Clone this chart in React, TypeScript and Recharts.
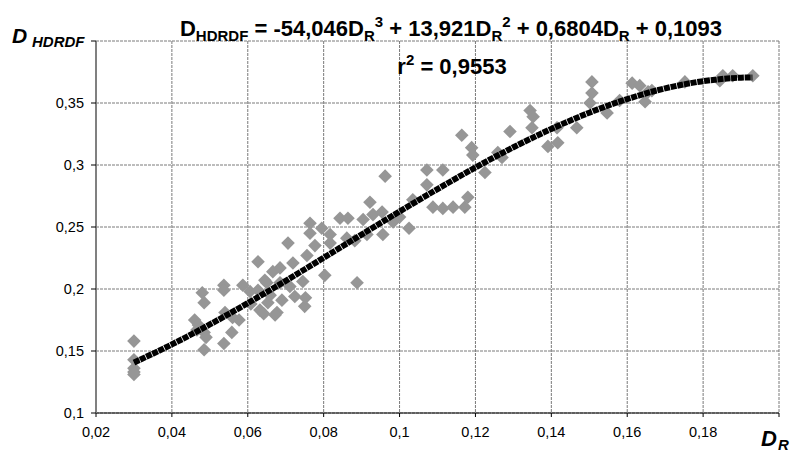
import React from 'react';
import { ComposedChart, Scatter, XAxis, YAxis, CartesianGrid } from 'recharts';

// Observed points: D_R (x) and D_HDRDF (y)
const drValues: number[] = [
  0.03, 0.03, 0.03, 0.03, 0.03,
  0.046, 0.048, 0.0485, 0.0466, 0.0485, 0.049, 0.0485, 0.047,
  0.0537, 0.0537, 0.054, 0.056, 0.0577, 0.0558, 0.0537, 0.0587,
  0.0606, 0.0608, 0.0627, 0.0645, 0.0627, 0.0632, 0.0653, 0.0677, 0.0672, 0.0642, 0.065,
  0.0685, 0.0685, 0.0706, 0.0719, 0.0711, 0.0724, 0.0745, 0.075, 0.0752, 0.0756,
  0.0764, 0.0764, 0.0777, 0.0795, 0.0803, 0.0817, 0.0666, 0.069, 0.0659,
  0.0817, 0.0843, 0.0864, 0.0861, 0.0882, 0.0888, 0.0904, 0.0922, 0.093, 0.0914,
  0.0956, 0.0962, 0.0954, 0.0983, 0.0988, 0.1025, 0.1,
  0.1035, 0.1072, 0.1072, 0.1088, 0.1114, 0.1114, 0.1141, 0.1164, 0.1172, 0.118,
  0.119, 0.1193, 0.1225, 0.1259, 0.127, 0.1291, 0.1344, 0.1352, 0.1349, 0.1391,
  0.1415, 0.1417, 0.1467, 0.1507, 0.1507, 0.1502, 0.1547, 0.158, 0.1613, 0.1633,
  0.1647, 0.1655, 0.1665, 0.1752, 0.1844, 0.1852, 0.1878, 0.1931,
];
const dhdrdfValues: number[] = [
  0.158, 0.143, 0.136, 0.133, 0.131,
  0.175, 0.197, 0.189, 0.167, 0.165, 0.161, 0.151, 0.171,
  0.203, 0.199, 0.181, 0.177, 0.175, 0.165, 0.156, 0.203,
  0.198, 0.188, 0.222, 0.207, 0.199, 0.183, 0.189, 0.181, 0.179, 0.18, 0.205,
  0.217, 0.205, 0.237, 0.221, 0.202, 0.194, 0.206, 0.186, 0.193, 0.227,
  0.253, 0.245, 0.235, 0.249, 0.211, 0.244, 0.214, 0.191, 0.195,
  0.237, 0.257, 0.257, 0.241, 0.239, 0.205, 0.256, 0.27, 0.26, 0.244,
  0.244, 0.291, 0.262, 0.254, 0.257, 0.249, 0.258,
  0.272, 0.296, 0.284, 0.266, 0.296, 0.265, 0.266, 0.324, 0.266, 0.274,
  0.314, 0.308, 0.294, 0.31, 0.306, 0.327, 0.344, 0.339, 0.33, 0.315,
  0.33, 0.318, 0.33, 0.367, 0.358, 0.35, 0.342, 0.352, 0.366, 0.364,
  0.351, 0.359, 0.36, 0.367, 0.368, 0.372, 0.372, 0.372,
];

// Trendline
const trendX: number[] = [0.03, 0.04, 0.05, 0.06, 0.07, 0.08, 0.09, 0.1, 0.11, 0.12, 0.13, 0.14, 0.15, 0.16, 0.17, 0.18, 0.19, 0.193];
const trendY: number[] = [0.1407, 0.1553, 0.1714, 0.1886, 0.2066, 0.2252, 0.2439, 0.2625, 0.2806, 0.298, 0.3143, 0.3291, 0.3422, 0.3532, 0.3618, 0.3676, 0.3704, 0.3706];

const xTicks: number[] = [0.02, 0.04, 0.06, 0.08, 0.1, 0.12, 0.14, 0.16, 0.18, 0.2];
const yTicks: number[] = [0.1, 0.15, 0.2, 0.25, 0.3, 0.35, 0.4];

const points = drValues.map((x, i) => ({ x, y: dhdrdfValues[i] }));
const trend = trendX.map((x, i) => ({ x, y: trendY[i] }));

const fmt = (v: number) => String(Number(v.toFixed(2))).replace('.', ',');

const Diamond = (props: any) => {
  const { cx, cy } = props;
  if (cx == null || cy == null) return null;
  const r = 6.8;
  return (
    <polygon
      points={`${cx},${cy - r} ${cx + r},${cy} ${cx},${cy + r} ${cx - r},${cy}`}
      fill="#969696"
    />
  );
};

const NoShape = () => null;

const FONT = '"Liberation Sans", Arial, sans-serif';

export default function App() {
  const tickStyle = { fontFamily: FONT, fontSize: 14.5, fill: '#000' };
  const sub: React.CSSProperties = { fontSize: 15, position: 'relative', top: 5 };
  const sup: React.CSSProperties = { fontSize: 15, position: 'relative', top: -9 };
  return (
    <div style={{ position: 'absolute', left: 0, top: 0, width: 797, height: 452, overflow: 'hidden', background: '#fff' }}>
      <ComposedChart
        width={797}
        height={452}
        margin={{ top: 41, right: 18, bottom: 9, left: 36 }}
      >
        <CartesianGrid stroke="#7a7a7a" strokeDasharray="3 1" />
        <XAxis
          type="number"
          dataKey="x"
          domain={[0.02, 0.2]}
          ticks={xTicks}
          tickFormatter={(v: number) => (v > 0.199 ? '' : fmt(v))}
          allowDataOverflow
          height={30}
          tick={tickStyle}
          tickSize={4}
          tickMargin={10}
          axisLine={{ stroke: '#000', strokeWidth: 1 }}
          tickLine={{ stroke: '#000' }}
        />
        <YAxis
          type="number"
          dataKey="y"
          domain={[0.1, 0.4]}
          ticks={yTicks}
          tickFormatter={(v: number) => (v > 0.399 ? '' : fmt(v))}
          allowDataOverflow
          width={60}
          tick={tickStyle}
          tickSize={5}
          tickMargin={7}
          axisLine={{ stroke: '#808080', strokeWidth: 2 }}
          tickLine={{ stroke: '#000' }}
        />
        <Scatter data={points} shape={<Diamond />} isAnimationActive={false} />
        <Scatter
          data={trend}
          shape={<NoShape />}
          line={{ stroke: '#000', strokeWidth: 6, strokeDasharray: '6 0.8' }}
          lineJointType="monotoneX"
          isAnimationActive={false}
        />
      </ComposedChart>

      <div
        style={{
          position: 'absolute', left: 151, top: 18.4, width: 600, textAlign: 'center',
          fontFamily: FONT, fontWeight: 'bold', fontSize: 22, lineHeight: '22px', whiteSpace: 'nowrap', color: '#000',
        }}
      >
        D<span style={sub}>HDRDF</span> = -54,046D<span style={sub}>R</span><span style={sup}>3</span> + 13,921D<span style={sub}>R</span><span style={sup}>2</span> + 0,6804D<span style={sub}>R</span> + 0,1093
      </div>
      <div
        style={{
          position: 'absolute', left: 152, top: 56.4, width: 600, textAlign: 'center',
          fontFamily: FONT, fontWeight: 'bold', fontSize: 22, lineHeight: '22px', whiteSpace: 'nowrap', color: '#000',
        }}
      >
        r<span style={sup}>2</span> = 0,9553
      </div>

      <div style={{ position: 'absolute', left: 12, top: 25.2, fontFamily: FONT, fontWeight: 'bold', fontStyle: 'italic', fontSize: 21, lineHeight: '21px', color: '#000' }}>D</div>
      <div style={{ position: 'absolute', left: 32, top: 34.3, fontFamily: FONT, fontWeight: 'bold', fontStyle: 'italic', fontSize: 15, lineHeight: '15px', color: '#000' }}>HDRDF</div>

      <div style={{ position: 'absolute', left: 761, top: 427.5, fontFamily: FONT, fontWeight: 'bold', fontStyle: 'italic', fontSize: 22, lineHeight: '22px', color: '#000' }}>D</div>
      <div style={{ position: 'absolute', left: 778, top: 436.5, fontFamily: FONT, fontWeight: 'bold', fontStyle: 'italic', fontSize: 15, lineHeight: '15px', color: '#000' }}>R</div>
    </div>
  );
}
